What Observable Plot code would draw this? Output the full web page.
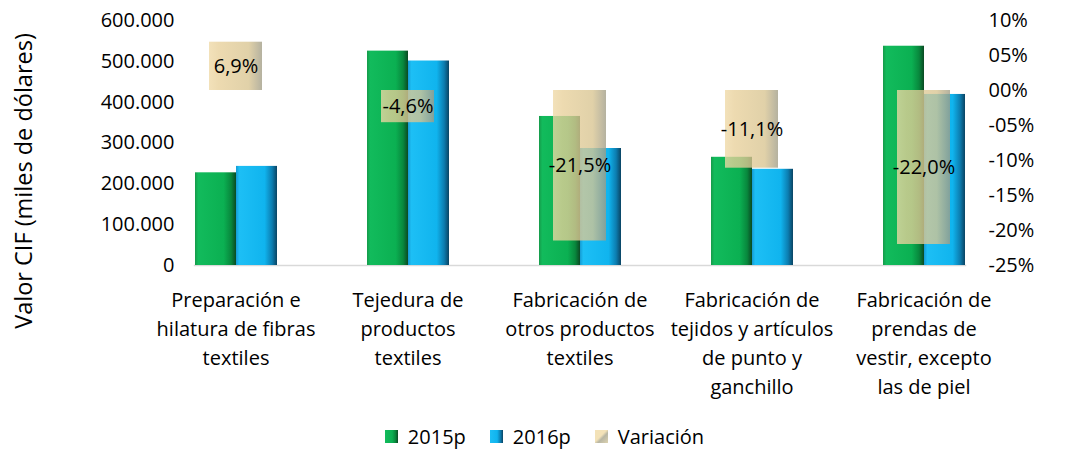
<!DOCTYPE html>
<html><head><meta charset="utf-8">
<script src="https://cdn.jsdelivr.net/npm/d3@7"></script>
<script src="https://cdn.jsdelivr.net/npm/@observablehq/plot@0.6"></script>
<style>
body{margin:0;background:#fff;font-family:"Open Sans",sans-serif;width:1089px;height:449px;overflow:hidden}
#legend{display:flex;justify-content:center;align-items:center;height:25px;font-size:20px;color:#000}
.item{display:flex;align-items:center;margin:0 12px}
.sw{width:13px;height:13px;margin-right:10px}
</style></head><body><div id="chart"></div><div id="legend"></div>
<script>
const categories = [
  "Preparación e\nhilatura de fibras\ntextiles",
  "Tejedura de\nproductos\ntextiles",
  "Fabricación de\notros productos\ntextiles",
  "Fabricación de\ntejidos y artículos\nde punto y\nganchillo",
  "Fabricación de\nprendas de\nvestir, excepto\nlas de piel"
];
const series = ["2015p", "2016p"];
const values2015 = [227000, 525000, 365000, 265000, 537000];
const values2016 = [242700, 500800, 286500, 235600, 418900];
const variation = [6.9, -4.6, -21.5, -11.1, -22.0];
const leftTicks = [0, 100000, 200000, 300000, 400000, 500000, 600000];
const leftTickLabels = ["0", "100.000", "200.000", "300.000", "400.000", "500.000", "600.000"];
const rightTicks = [10, 5, 0, -5, -10, -15, -20, -25];
const rightTickLabels = ["10%", "05%", "00%", "-05%", "-10%", "-15%", "-20%", "-25%"];
const yTitle = "Valor CIF (miles de dólares)";
const legendLabels = ["2015p", "2016p", "Variación"];

const leftMax = 600000, rightMin = -25, rightMax = 10;
const toLeft = p => (p - rightMin) / (rightMax - rightMin) * leftMax;
const rightMapped = rightTicks.map(toLeft);
const fmtPct = v => v.toFixed(1).replace(".", ",") + "%";

const bars = [];
categories.forEach((c, i) => {
  bars.push({cat: c, series: series[0], value: values2015[i]});
  bars.push({cat: c, series: series[1], value: values2016[i]});
});
const varData = categories.map((c, i) => ({cat: c, v: variation[i]}));

const svg = Plot.plot({
  width: 1089, height: 424,
  marginLeft: 148, marginRight: 79, marginTop: 20, marginBottom: 159,
  style: {fontFamily: "'Open Sans', sans-serif", fontSize: "20px", color: "#000", background: "#fff"},
  fx: {domain: categories, paddingInner: 0.52, paddingOuter: 0.26},
  x: {domain: series, padding: 0, axis: null},
  y: {domain: [0, leftMax]},
  color: {domain: series, range: ["url(#g2015)", "url(#g2016)"]},
  marks: [
    Plot.frame({facet: "super", anchor: "bottom", stroke: "#d9d9d9", strokeWidth: 1.5}),
    Plot.barY(bars, {fx: "cat", x: "series", y: "value", fill: "series"}),
    Plot.rectY(varData, {fx: "cat", y1: () => toLeft(0), y2: d => toLeft(d.v), fill: "url(#gvar)", fillOpacity: 0.78, insetLeft: 15, insetRight: 15}),
    Plot.text(varData, {fx: "cat", y: d => toLeft(d.v / 2), text: d => fmtPct(d.v), fontSize: 20, fill: "#000"}),
    Plot.axisY(leftTicks, {anchor: "left", tickSize: 0, tickPadding: 20, fontSize: 20, tickFormat: d => leftTickLabels[leftTicks.indexOf(d)], label: null}),
    Plot.axisY(rightMapped, {anchor: "right", tickSize: 0, tickPadding: 23, fontSize: 20, tickFormat: d => rightTickLabels[rightMapped.indexOf(d)], label: null}),
    Plot.axisFx({anchor: "bottom", tickSize: 0, tickPadding: 21, fontSize: 20, lineHeight: 1.45, label: null}),
    Plot.text([yTitle], {facet: "super", frameAnchor: "left", text: d => d, rotate: -90, textAnchor: "middle", dx: -170, dy: 38, fontSize: 23.5, fill: "#000"})
  ]
});

const NS = "http://www.w3.org/2000/svg";
function grad(id, stops) {
  const g = document.createElementNS(NS, "linearGradient");
  g.setAttribute("id", id);
  g.setAttribute("x1", "0"); g.setAttribute("x2", "1"); g.setAttribute("y1", "0"); g.setAttribute("y2", "0");
  stops.forEach(([o, c]) => {
    const s = document.createElementNS(NS, "stop");
    s.setAttribute("offset", o); s.setAttribute("stop-color", c);
    g.appendChild(s);
  });
  return g;
}
const defs = document.createElementNS(NS, "defs");
defs.appendChild(grad("g2015", [[0, "#169a4a"], [0.08, "#12bb5c"], [0.7, "#0bb052"], [0.88, "#08883d"], [1, "#0a4a23"]]));
defs.appendChild(grad("g2016", [[0, "#159bd3"], [0.08, "#1dbff5"], [0.7, "#10b4ee"], [0.88, "#0c7db0"], [1, "#0a4463"]]));
defs.appendChild(grad("gvar", [[0, "#efd9a6"], [0.18, "#e8d09a"], [0.75, "#d8c490"], [1, "#a09c85"]]));
svg.insertBefore(defs, svg.firstChild);
document.getElementById("chart").appendChild(svg);

const swatches = [
  "linear-gradient(90deg,#12bb5c,#0bb052 55%,#08883d 80%,#0a4a23)",
  "linear-gradient(90deg,#1dbff5,#10b4ee 55%,#0c7db0 80%,#0a4463)",
  "linear-gradient(135deg,#f3e2b8 45%,#b8b6a4 60%,#ddd3b0)"
];
const legend = document.getElementById("legend");
legendLabels.forEach((l, i) => {
  const it = document.createElement("div"); it.className = "item";
  const sw = document.createElement("span"); sw.className = "sw"; sw.style.background = swatches[i];
  const tx = document.createElement("span"); tx.textContent = l;
  it.appendChild(sw); it.appendChild(tx); legend.appendChild(it);
});
</script></body></html>
